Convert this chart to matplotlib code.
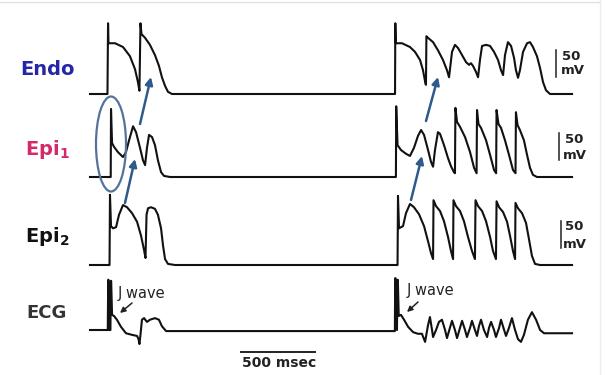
import matplotlib.pyplot as plt
import numpy as np
from matplotlib.patches import Ellipse

plt.rcParams['font.family'] = ['DejaVu Sans']
plt.rcParams['mathtext.fontset'] = 'dejavusans'
plt.rcParams['mathtext.default'] = 'bf'

# traces: (time in ms, potential in mV above rest)
# left = two paced beats, right = phase 2 reentry run
endo = [(0, 0), (118, 0), (122, 131), (125, 94), (169, 94), (223, 87), (270, 70), (304, 46),
        (324, 22), (334, 6), (341, 131), (348, 111), (372, 104), (405, 91), (439, 72), (466, 52),
        (486, 31), (507, 15), (527, 4), (554, 0),
        (2061, 0), (2063, 131), (2066, 94), (2108, 94), (2162, 87), (2196, 78), (2230, 63),
        (2250, 44), (2267, 19), (2270, 17), (2273, 107), (2284, 104), (2318, 96), (2351, 81),
        (2385, 63), (2412, 44), (2426, 31), (2446, 78), (2466, 91), (2487, 85), (2514, 72),
        (2541, 59), (2561, 54), (2574, 57), (2588, 52), (2608, 41), (2622, 31), (2635, 63),
        (2649, 89), (2676, 91), (2703, 89), (2730, 78), (2757, 63), (2777, 44), (2791, 35),
        (2804, 72), (2824, 96), (2845, 89), (2865, 67), (2878, 44), (2892, 30), (2905, 44),
        (2926, 78), (2953, 94), (2973, 96), (2993, 87), (3020, 70), (3041, 48), (3061, 22),
        (3081, 7), (3108, 0), (3257, 0)]

epi1 = [(0, 0), (140, 0), (142, 126), (149, 63), (162, 56), (189, 46), (223, 37), (243, 46),
        (264, 68), (291, 94), (311, 83), (338, 54), (358, 31), (372, 22), (385, 54), (399, 78),
        (419, 74), (439, 59), (459, 31), (480, 9), (500, 2), (541, 0),
        (2067, 0), (2069, 131), (2078, 59), (2101, 50), (2135, 43), (2162, 39), (2189, 54),
        (2216, 76), (2237, 87), (2257, 78), (2284, 50), (2304, 28), (2318, 19), (2331, 50),
        (2351, 83), (2365, 80), (2392, 59), (2419, 35), (2439, 20), (2459, 9), (2466, 7),
        (2469, 128), (2480, 102), (2500, 93), (2534, 74), (2568, 46), (2595, 17), (2612, 7),
        (2615, 124), (2625, 98), (2642, 91), (2676, 68), (2703, 41), (2730, 13), (2744, 7),
        (2747, 124), (2760, 98), (2777, 91), (2804, 68), (2831, 41), (2858, 13), (2875, 7),
        (2878, 120), (2889, 96), (2905, 87), (2932, 68), (2953, 41), (2973, 17), (2993, 4),
        (3020, 0), (3257, 0)]

epi2 = [(0, 0), (132, 0), (135, 130), (142, 72), (155, 68), (176, 70), (196, 93), (223, 111),
        (250, 107), (284, 96), (318, 80), (345, 54), (365, 28), (375, 13), (382, 93), (392, 105),
        (412, 107), (439, 104), (459, 93), (480, 68), (493, 37), (507, 11), (527, 2), (574, 0),
        (2078, 0), (2081, 128), (2088, 68), (2115, 72), (2135, 96), (2162, 113), (2189, 107),
        (2223, 94), (2257, 72), (2284, 44), (2304, 22), (2318, 11), (2321, 120), (2338, 109),
        (2365, 100), (2392, 81), (2419, 52), (2439, 26), (2453, 11), (2456, 120), (2473, 109),
        (2500, 100), (2527, 81), (2554, 52), (2581, 26), (2601, 11), (2605, 120), (2622, 109),
        (2649, 100), (2676, 81), (2703, 52), (2723, 26), (2743, 11), (2747, 118), (2764, 107),
        (2791, 98), (2818, 80), (2838, 54), (2858, 26), (2872, 11), (2875, 115), (2892, 105),
        (2919, 96), (2946, 78), (2966, 48), (2986, 17), (3007, 2), (3041, 0), (3257, 0)]

ecg = [(0, 0), (120, 0), (123, 93), (125, 93), (128, 0), (138, 0), (141, 91), (143, 91),
       (149, 28), (162, 26), (182, 19), (209, 6), (243, -6), (284, -9), (318, -11), (328, -17),
       (334, -26), (341, -9), (351, 19), (365, 22), (385, 15), (405, 19), (439, 22), (466, 19),
       (486, 7), (514, -2), (2054, -2), (2060, -2), (2062, 96), (2064, 96), (2069, 9), (2074, 0),
       (2078, 93), (2080, 93), (2086, 26), (2101, 28), (2122, 19), (2149, 6), (2183, -4),
       (2216, -7), (2243, -7), (2264, -22), (2284, 9), (2297, 24), (2311, 0), (2318, -13),
       (2338, 0), (2358, 15), (2378, 19), (2399, 0), (2412, -15), (2432, 4), (2446, 17),
       (2466, 0), (2480, -15), (2500, 4), (2514, 17), (2534, 0), (2547, -13), (2568, 4),
       (2581, 17), (2601, 0), (2615, -11), (2628, 7), (2642, 19), (2662, 0), (2683, -13),
       (2696, 4), (2710, 15), (2730, 0), (2743, -13), (2764, 4), (2777, 19), (2798, 0),
       (2811, -11), (2831, 4), (2851, 22), (2872, 0), (2892, -17), (2912, -22), (2932, -9),
       (2959, 19), (2986, 33), (3014, 19), (3041, 0), (3068, -6), (3257, -6)]

time_bar_ms = 500
volt_bar_mv = 50

# layout: pixels of the 605x375 canvas
ms_px = 500 / 74
mv_px = 50 / 27
x0 = 90

fig = plt.figure(figsize=(6.05, 3.75), dpi=100)
ax = fig.add_axes([0, 0, 1, 1])
ax.set_xlim(-x0 * ms_px, (605 - x0) * ms_px)
ax.set_ylim(-375 * mv_px, 0)
ax.axis('off')

rows = [(endo, 94, 556), (epi1, 177, 559), (epi2, 265, 561), (ecg, 330, None)]
for trace, base, bar_x in rows:
    t, v = np.array(trace, dtype=float).T
    off = -base * mv_px
    ax.plot(t, v + off, color='#111111', lw=1.5, solid_joinstyle='round')
    if bar_x is not None:
        bt = (bar_x - x0) * ms_px
        ax.plot([bt, bt], [off + 32, off + 32 + volt_bar_mv], color='#222222', lw=1.1)

tb = (241 - x0) * ms_px
ax.plot([tb, tb + time_bar_ms], [-352 * mv_px] * 2, color='#222222', lw=1.4)

# overlay in pixel coordinates for labels and annotations
ov = fig.add_axes([0, 0, 1, 1])
ov.set_xlim(0, 605)
ov.set_ylim(375, 0)
ov.axis('off')
ov.patch.set_alpha(0)

lab = dict(fontsize=14, fontweight='bold', ha='left', va='baseline')
ov.text(20, 75, 'Endo', color='#2525a8', **lab)
ov.text(25, 155, r'Epi$_1$', color='#d42a6c', **lab)
ov.text(25, 242, r'Epi$_2$', color='#111111', **lab)
ov.text(26, 318, 'ECG', color='#333333', fontsize=13, fontweight='bold', ha='left', va='baseline')

sb = dict(fontsize=9.5, fontweight='bold', ha='left', va='baseline', color='#222222')
for (x50, y50), (xmv, ymv) in [((562, 60), (561, 74)), ((565, 143), (563, 159)),
                               ((565, 230), (563, 248))]:
    ov.text(x50, y50, '50', **sb)
    ov.text(xmv, ymv, 'mV', **sb)

ov.text(279, 367, '500 msec', fontsize=10, fontweight='bold', ha='center', va='baseline',
        color='#222222')

for tx, ty, tail, tip in [(118, 298, (132, 303), (120, 313)), (407, 295, (418, 302), (407, 312))]:
    ov.text(tx, ty, 'J wave', fontsize=10.5, color='#222222', ha='left', va='baseline')
    ov.annotate('', xy=tip, xytext=tail,
                arrowprops=dict(arrowstyle='-|>', color='#222222', lw=1.1, mutation_scale=8,
                                shrinkA=0, shrinkB=0))

blue = '#2d5b8c'
for tail, tip in [((140, 124), (151, 77)), ((125, 203), (135, 159)),
                  ((426, 121), (438, 77)), ((411, 200), (422, 156))]:
    ov.annotate('', xy=tip, xytext=tail,
                arrowprops=dict(arrowstyle='-|>', color=blue, lw=1.8, mutation_scale=11,
                                shrinkA=0, shrinkB=0))

ov.add_patch(Ellipse((111, 144), 30, 95, fill=False, edgecolor='#55739a', lw=1.6))

ov.plot([0, 600], [1.5, 1.5], color='#e2e2e2', lw=1)
ov.plot([600, 600], [0, 375], color='#ececec', lw=1)

fig.savefig('out.png', dpi=100)
